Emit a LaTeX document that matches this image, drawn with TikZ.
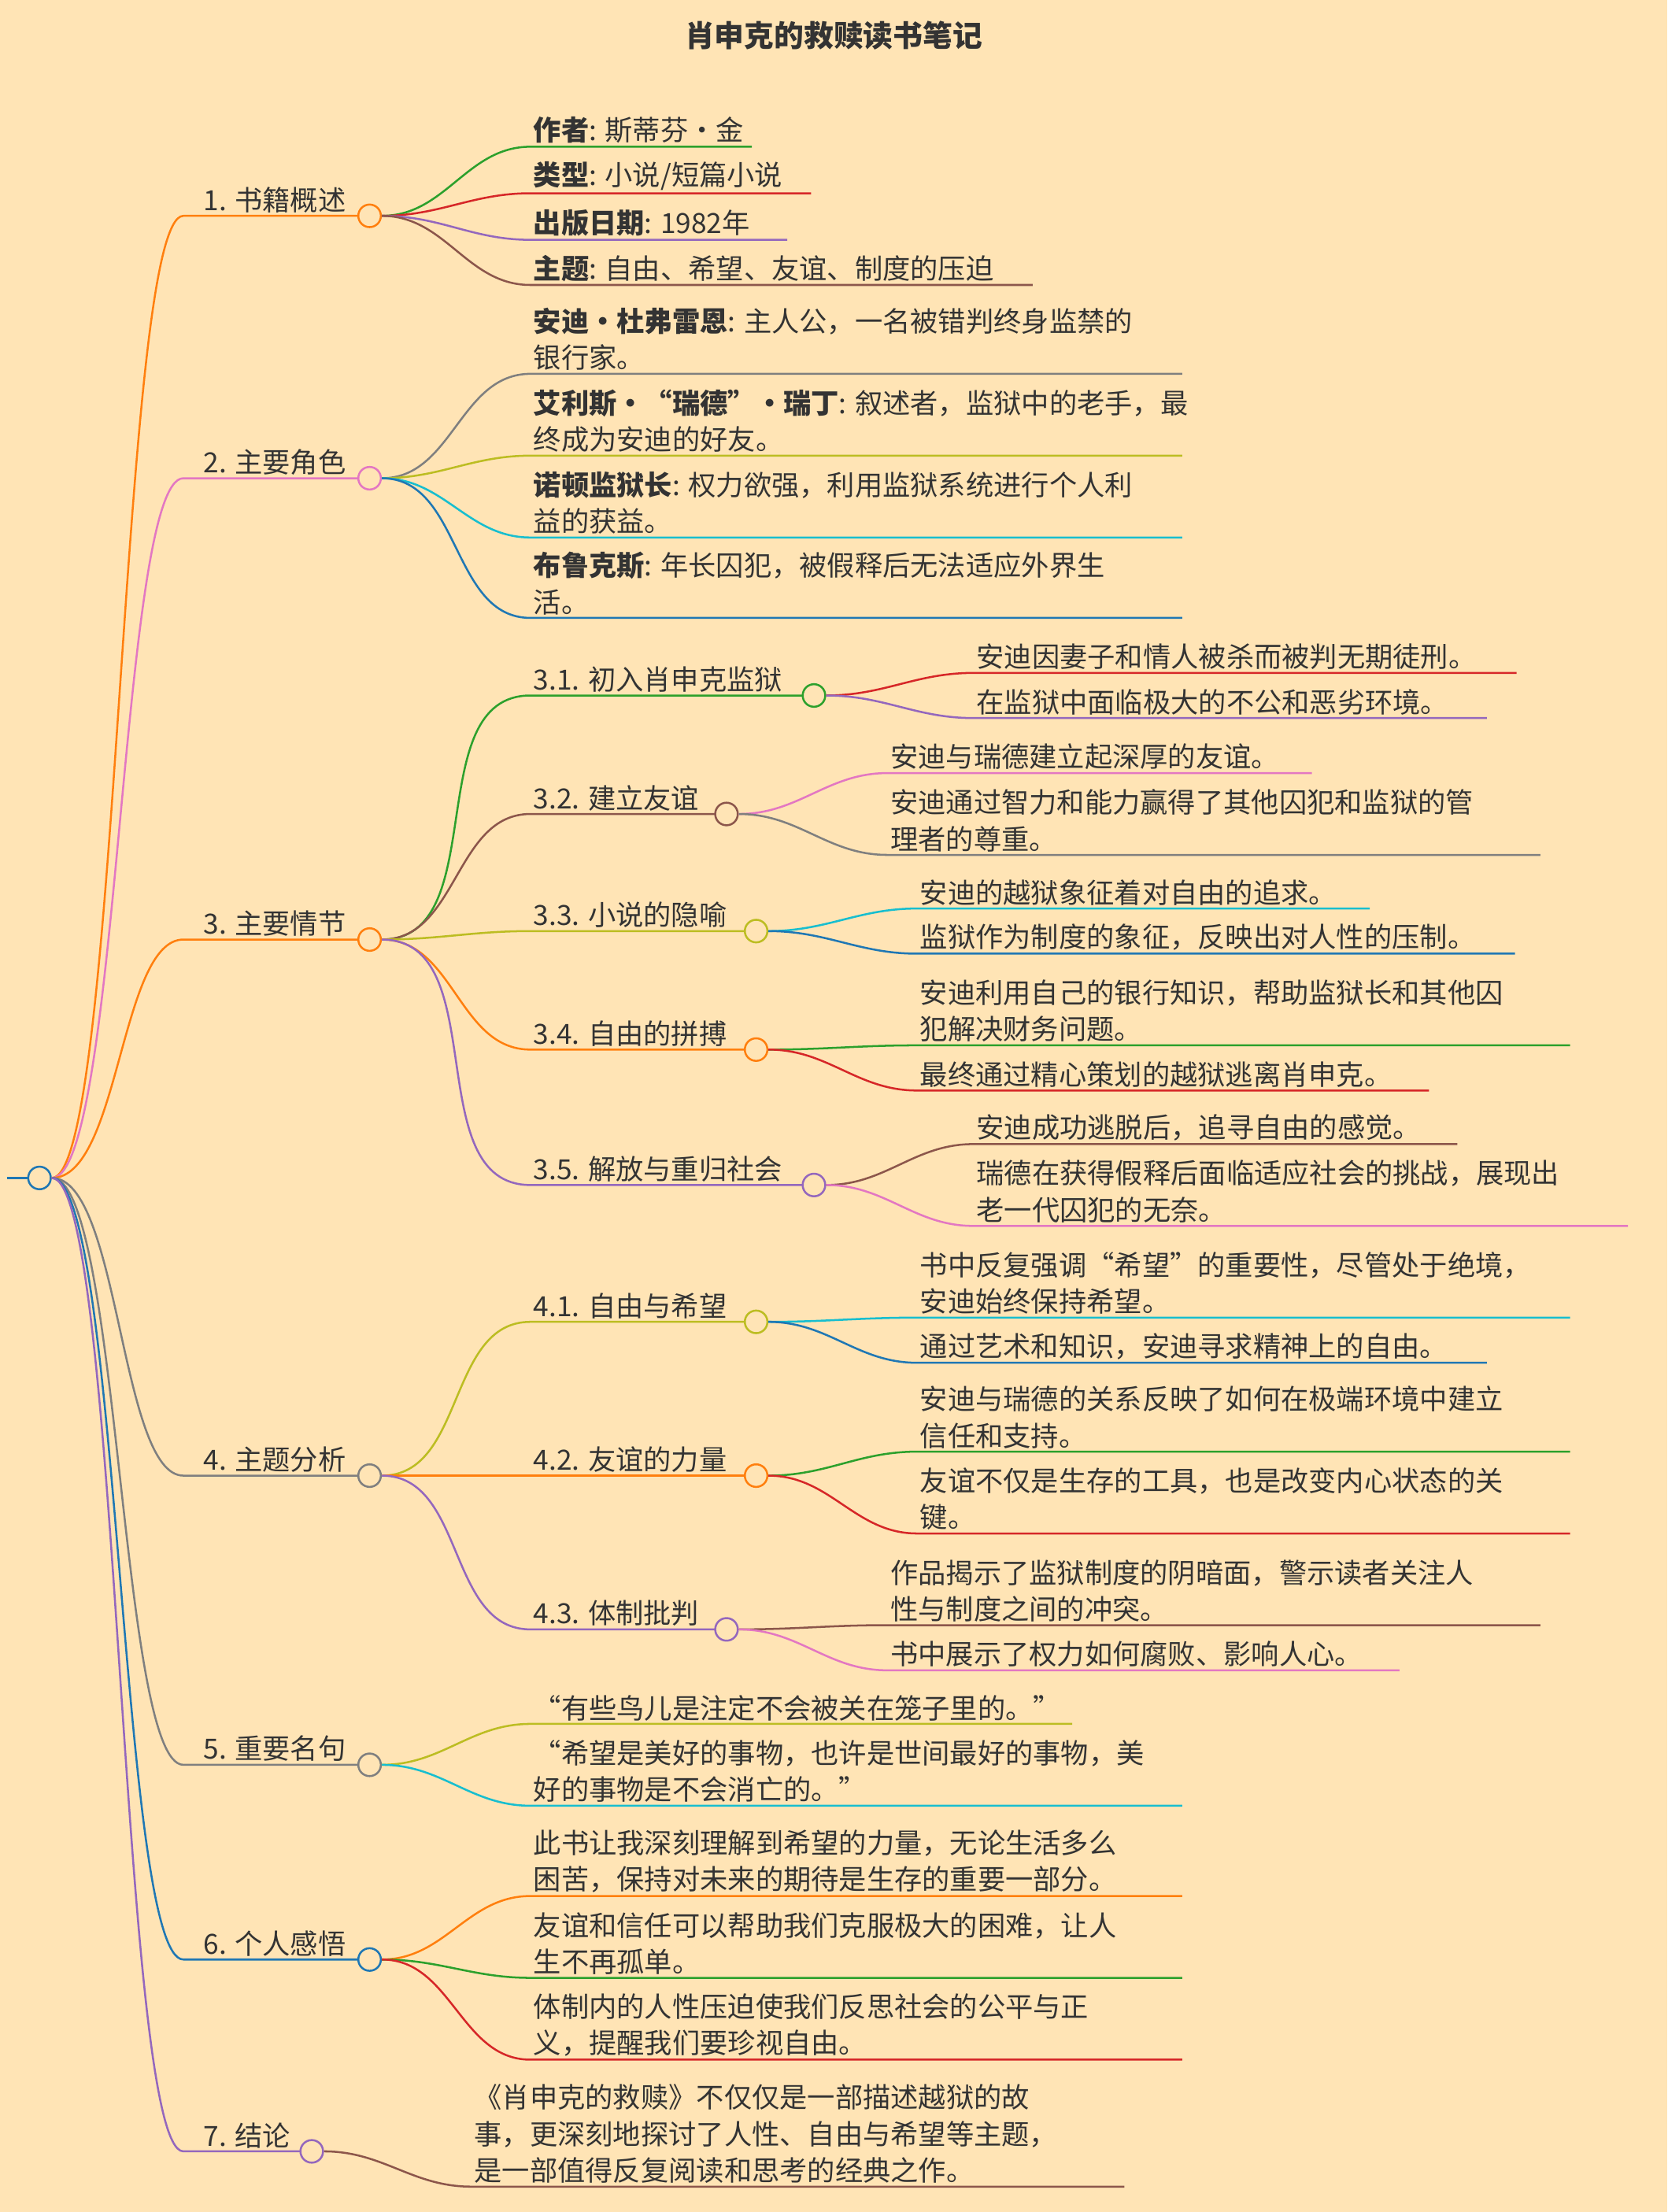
\documentclass[tikz,border=0pt]{standalone}
\usepackage{fontspec}
\setmainfont{Noto Sans CJK SC}
\definecolor{bg}{HTML}{FFE4B5}
\definecolor{ink}{HTML}{333333}
\definecolor{corange}{HTML}{FF7F0E}
\definecolor{cpink}{HTML}{E377C2}
\definecolor{cgray}{HTML}{7F7F7F}
\definecolor{cblue}{HTML}{1F77B4}
\definecolor{cpurple}{HTML}{9467BD}
\definecolor{cgreen}{HTML}{2CA02C}
\definecolor{cred}{HTML}{D62728}
\definecolor{cbrown}{HTML}{8C564B}
\definecolor{colive}{HTML}{BCBD22}
\definecolor{ccyan}{HTML}{17BECF}
\tikzset{
  edge/.style={line width=2pt},
  dot/.style={circle,draw=#1,line width=2pt,fill=bg,minimum size=0.8cm,inner sep=0pt},
  txt/.style={anchor=south west,text=ink,font=\fontsize{28}{37}\selectfont,align=left,inner sep=3pt}
}
% kid: parent, colour, x, y, end x, text
\newcommand\kid[6]{%
  \draw[edge,#2] (#1.east) to[out=0,in=180] (#3,#4) -- (#5,#4);
  \node[txt] at (#3,#4) {#6};}
% topic: name, colour, circle x, y, text
\newcommand\topic[5]{%
  \draw[edge,#2] (root.east) .. controls (85,835) and (85,#4) .. (130,#4) -- (#3,#4);
  \node[dot=#2] (#1) at (#3,#4) {};
  \node[txt] at (142,#4) {#5};}
\newcommand\sub[7]{% name, parent, colour, circle x, y, text x, text
  \draw[edge,#3] (#2.east) to[out=0,in=180] (#6,#5) -- (#4,#5);
  \node[dot=#3] (#1) at (#4,#5) {};
  \node[txt] at (#6,#5) {#7};}
\begin{document}
\begin{tikzpicture}[x=0.05cm,y=-0.05cm]
  \fill[bg] (0,0) rectangle (1182,1568);
  \useasboundingbox (0,0) rectangle (1182,1568);
  \node[text=ink,font=\fontsize{30}{36}\selectfont\bfseries] (title) at (591,25) {肖申克的救赎读书笔记};
  \draw[edge,cblue] (5,835) -- (28,835);
  \node[dot=cblue] (root) at (28,835) {};

  % 1
  \topic{t1}{corange}{262}{153}{1. 书籍概述}
  \kid{t1}{cgreen}{376}{104}{533}{\textbf{作者}: 斯蒂芬·金}
  \kid{t1}{cred}{376}{137}{575}{\textbf{类型}: 小说/短篇小说}
  \kid{t1}{cpurple}{376}{170}{558}{\textbf{出版日期}: 1982年}
  \kid{t1}{cbrown}{376}{202}{732}{\textbf{主题}: 自由、希望、友谊、制度的压迫}
  % 2
  \topic{t2}{cpink}{262}{339}{2. 主要角色}
  \kid{t2}{cgray}{376}{265}{838}{\textbf{安迪·杜弗雷恩}: 主人公，一名被错判终身监禁的\\银行家。}
  \kid{t2}{colive}{376}{323}{838}{\textbf{艾利斯·“瑞德”·瑞丁}: 叙述者，监狱中的老手，最\\终成为安迪的好友。}
  \kid{t2}{ccyan}{376}{381}{838}{\textbf{诺顿监狱长}: 权力欲强，利用监狱系统进行个人利\\益的获益。}
  \kid{t2}{cblue}{376}{438}{838}{\textbf{布鲁克斯}: 年长囚犯，被假释后无法适应外界生\\活。}
  % 3
  \topic{t3}{corange}{262}{666}{3. 主要情节}
  \sub{s31}{t3}{cgreen}{577}{493}{376}{3.1. 初入肖申克监狱}
  \kid{s31}{cred}{690}{477}{1075}{安迪因妻子和情人被杀而被判无期徒刑。}
  \kid{s31}{cpurple}{690}{509}{1054}{在监狱中面临极大的不公和恶劣环境。}
  \sub{s32}{t3}{cbrown}{515}{577}{376}{3.2. 建立友谊}
  \kid{s32}{cpink}{629}{548}{930}{安迪与瑞德建立起深厚的友谊。}
  \kid{s32}{cgray}{629}{606}{1092}{安迪通过智力和能力赢得了其他囚犯和监狱的管\\理者的尊重。}
  \sub{s33}{t3}{colive}{536}{660}{376}{3.3. 小说的隐喻}
  \kid{s33}{ccyan}{650}{644}{971}{安迪的越狱象征着对自由的追求。}
  \kid{s33}{cblue}{650}{676}{1074}{监狱作为制度的象征，反映出对人性的压制。}
  \sub{s34}{t3}{corange}{536}{744}{376}{3.4. 自由的拼搏}
  \kid{s34}{cgreen}{650}{741}{1113}{安迪利用自己的银行知识，帮助监狱长和其他囚\\犯解决财务问题。}
  \kid{s34}{cred}{650}{773}{1013}{最终通过精心策划的越狱逃离肖申克。}
  \sub{s35}{t3}{cpurple}{577}{840}{376}{3.5. 解放与重归社会}
  \kid{s35}{cbrown}{690}{811}{1033}{安迪成功逃脱后，追寻自由的感觉。}
  \kid{s35}{cpink}{690}{869}{1154}{瑞德在获得假释后面临适应社会的挑战，展现出\\老一代囚犯的无奈。}
  % 4
  \topic{t4}{cgray}{262}{1046}{4. 主题分析}
  \sub{s41}{t4}{colive}{536}{937}{376}{4.1. 自由与希望}
  \kid{s41}{ccyan}{650}{934}{1113}{书中反复强调“希望”的重要性，尽管处于绝境，\\安迪始终保持希望。}
  \kid{s41}{cblue}{650}{966}{1054}{通过艺术和知识，安迪寻求精神上的自由。}
  \sub{s42}{t4}{corange}{536}{1046}{376}{4.2. 友谊的力量}
  \kid{s42}{cgreen}{650}{1029}{1113}{安迪与瑞德的关系反映了如何在极端环境中建立\\信任和支持。}
  \kid{s42}{cred}{650}{1087}{1113}{友谊不仅是生存的工具，也是改变内心状态的关\\键。}
  \sub{s43}{t4}{cpurple}{515}{1155}{376}{4.3. 体制批判}
  \kid{s43}{cbrown}{629}{1152}{1092}{作品揭示了监狱制度的阴暗面，警示读者关注人\\性与制度之间的冲突。}
  \kid{s43}{cpink}{629}{1184}{992}{书中展示了权力如何腐败、影响人心。}
  % 5
  \topic{t5}{cgray}{262}{1251}{5. 重要名句}
  \kid{t5}{colive}{376}{1222}{760}{“有些鸟儿是注定不会被关在笼子里的。”}
  \kid{t5}{ccyan}{376}{1280}{838}{“希望是美好的事物，也许是世间最好的事物，美\\好的事物是不会消亡的。”}
  % 6
  \topic{t6}{cblue}{262}{1389}{6. 个人感悟}
  \kid{t6}{corange}{376}{1344}{838}{此书让我深刻理解到希望的力量，无论生活多么\\困苦，保持对未来的期待是生存的重要一部分。}
  \kid{t6}{cgreen}{376}{1402}{838}{友谊和信任可以帮助我们克服极大的困难，让人\\生不再孤单。}
  \kid{t6}{cred}{376}{1460}{838}{体制内的人性压迫使我们反思社会的公平与正\\义，提醒我们要珍视自由。}
  % 7
  \topic{t7}{cpurple}{221}{1525}{7. 结论}
  \kid{t7}{cbrown}{334}{1550}{797}{《肖申克的救赎》不仅仅是一部描述越狱的故\\事，更深刻地探讨了人性、自由与希望等主题，\\是一部值得反复阅读和思考的经典之作。}
\end{tikzpicture}
\end{document}
